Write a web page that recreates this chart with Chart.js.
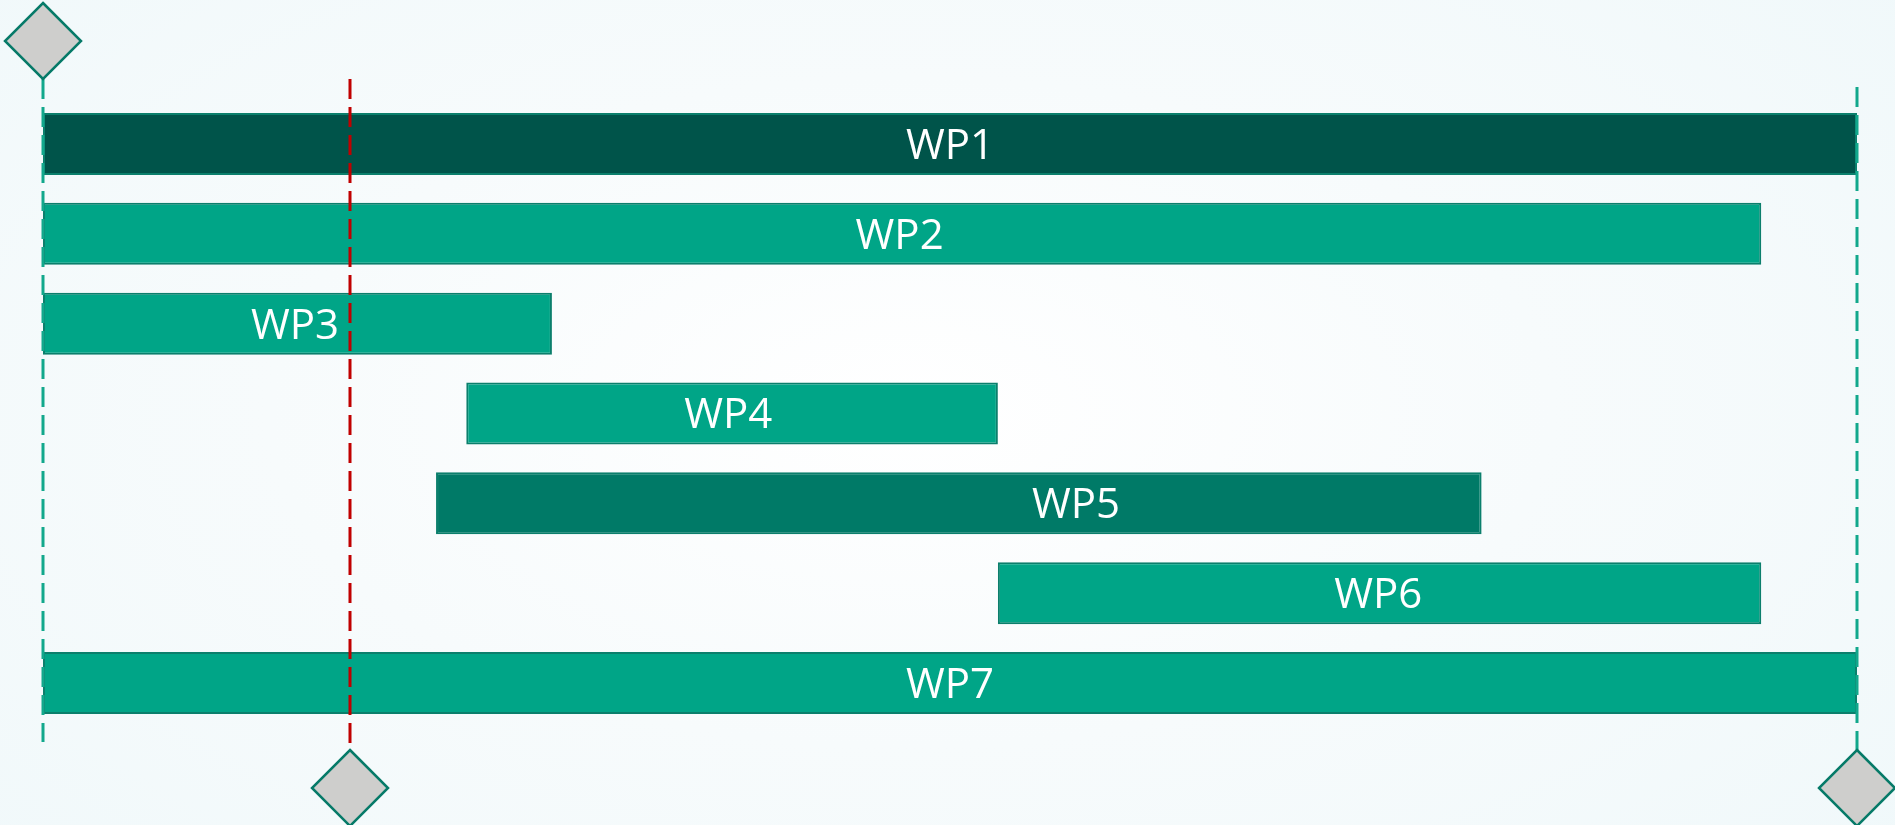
<!DOCTYPE html>
<html>
<head>
<meta charset="utf-8">
<script src="https://cdn.jsdelivr.net/npm/chart.js@4.4.0/dist/chart.umd.min.js"></script>
<style>
  html, body { margin: 0; padding: 0; }
  body {
    width: 1895px; height: 825px; overflow: hidden;
    background: radial-gradient(ellipse 75% 90% at 48% 50%, #ffffff 0%, #f7fbfc 45%, #eff8fa 100%);
  }
  #wrap { position: relative; width: 1895px; height: 825px; }
</style>
</head>
<body>
<div id="wrap"><canvas id="myChart"></canvas></div>
<script>
// work packages, months from project start
const packages = ["WP1", "WP2", "WP3", "WP4", "WP5", "WP6", "WP7"];
const startMonth = [0, 0, 0, 8.4, 7.8, 18.95, 0];
const endMonth = [36, 34.1, 10.1, 18.95, 28.55, 34.1, 36];
const labelMonth = [18, 17, 5, 13.6, 20.5, 26.5, 18];
const barColors = ["#00544a", "#00a587", "#00a587", "#00a587", "#007a67", "#00a587", "#00a587"];

// milestones: month, which side the diamond sits on, line colour
const milestoneMonth = [0, 6.1, 36];
const milestoneSide = ["top", "bottom", "bottom"];
const milestoneLine = ["#12a88c", "#c00000", "#12a88c"];

const spans = packages.map((p, i) => [startMonth[i], endMonth[i]]);

const milestonePlugin = {
  id: "milestones",
  afterDatasetsDraw(chart) {
    const ctx = chart.ctx;
    const x = chart.scales.x;
    const area = chart.chartArea;
    const half = 38;
    ctx.save();
    milestoneMonth.forEach((m, i) => {
      const px = Math.round(x.getPixelForValue(m));
      const top = milestoneSide[i] == "top";
      const cy = top ? area.top - 58 : area.bottom + 60;
      let y0, y1;
      if (top) { y0 = cy + half; y1 = area.bottom + 14; }
      else { y0 = area.top - (i == 2 ? 12 : 20); y1 = cy - half; }
      ctx.strokeStyle = milestoneLine[i];
      ctx.lineWidth = 3;
      ctx.setLineDash([20, 8]);
      ctx.beginPath();
      ctx.moveTo(px, y0);
      ctx.lineTo(px, y1);
      ctx.stroke();
      ctx.setLineDash([]);
      ctx.beginPath();
      ctx.moveTo(px, cy - half);
      ctx.lineTo(px + half, cy);
      ctx.lineTo(px, cy + half);
      ctx.lineTo(px - half, cy);
      ctx.closePath();
      ctx.fillStyle = "#cececc";
      ctx.fill();
      ctx.strokeStyle = "#067a68";
      ctx.lineWidth = 2.5;
      ctx.stroke();
    });
    ctx.restore();
  }
};

const labelPlugin = {
  id: "wpLabels",
  afterDraw(chart) {
    const ctx = chart.ctx;
    const x = chart.scales.x;
    const y = chart.scales.y;
    ctx.save();
    ctx.fillStyle = "#ffffff";
    ctx.font = '42px "Open Sans", sans-serif';
    ctx.textAlign = "center";
    ctx.textBaseline = "middle";
    packages.forEach((p, i) => {
      ctx.fillText(p, x.getPixelForValue(labelMonth[i]), y.getPixelForValue(i) + 3);
    });
    ctx.restore();
  }
};

const ctx = document.getElementById("myChart").getContext("2d");
new Chart(ctx, {
  type: "bar",
  data: {
    labels: packages,
    datasets: [{
      data: spans,
      backgroundColor: barColors,
      borderColor: "#0b7f6c",
      borderWidth: 2,
      borderSkipped: false,
      barPercentage: 0.69,
      categoryPercentage: 1
    }]
  },
  options: {
    indexAxis: "y",
    responsive: true,
    maintainAspectRatio: false,
    animation: false,
    layout: { padding: { left: 43, right: 38, top: 99, bottom: 97 } },
    plugins: { legend: { display: false }, tooltip: { enabled: false } },
    scales: {
      x: { type: "linear", min: 0, max: 36, display: false },
      y: { display: false }
    }
  },
  plugins: [milestonePlugin, labelPlugin]
});
</script>
</body>
</html>
